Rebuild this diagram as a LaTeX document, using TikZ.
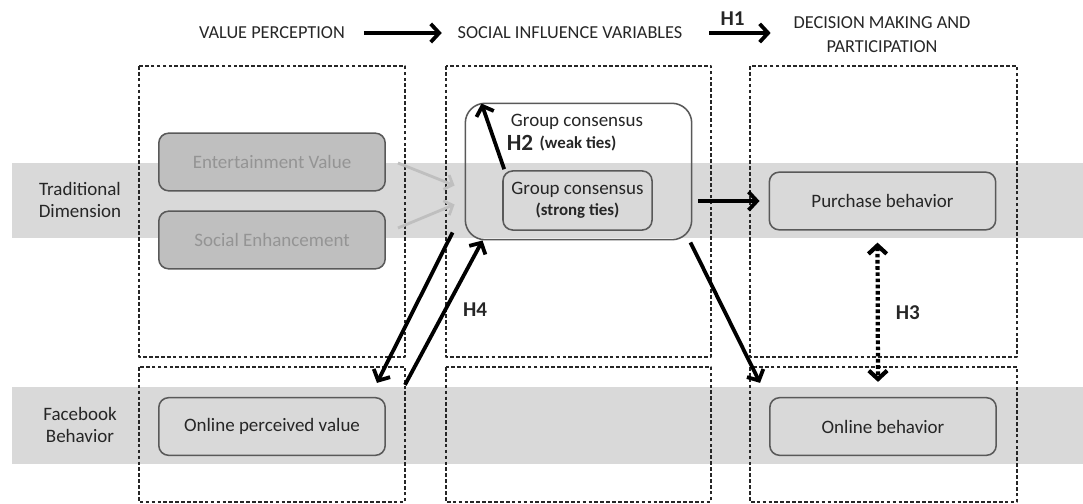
\documentclass[tikz,border=0pt]{standalone}
\usepackage{fontspec}
\setmainfont{Carlito}
\usetikzlibrary{arrows.meta,calc}
\tikzset{
 band/.style={fill=black!15,draw=none},
 colbox/.style={draw=black!85,line width=.9pt,dash pattern=on 2.6pt off 1.6pt},
 rbox/.style={draw=black!65,line width=1.1pt,rounded corners=7pt,fill=black!15,text=black!85,
  minimum width=161pt,minimum height=41pt,font=\fontsize{13.5}{16}\selectfont},
 dimbox/.style={rbox,fill=black!25,text=black!42},
 hyp/.style={font=\fontsize{15}{18}\selectfont\bfseries,text=black!85},
 barb/.tip={Straight Barb[length=6pt,width=13pt]},
 arr/.style={-barb,line width=2.7pt},
 faint/.style={-{Straight Barb[length=5pt,width=11pt]},draw=black!25,line width=2pt}
}
\begin{document}
\begin{tikzpicture}[x=.025cm,y=-.025cm,font=\fontsize{13.5}{16}\selectfont,line join=round,line cap=butt]
 \useasboundingbox (0,0) rectangle (1083,504);
 % rows
 \fill[band] (12,163) rectangle (1083,238);
 \fill[band] (12,387) rectangle (1083,464);
 \node[text=black!85,align=center] (trad) at (80,200) {Traditional\\Dimension};
 \node[text=black!85,align=center] (fb) at (80,425) {Facebook\\Behavior};
 % columns
 \foreach \l/\r in {139/405,446/711,750/1017}{
  \draw[colbox] (\l,66) rectangle (\r,357);
  \draw[colbox] (\l,367) rectangle (\r,502);
 }
 % headings
 \begin{scope}[every node/.style={text=black!85,font=\fontsize{13}{17}\selectfont}]
 \node (vp) at (272,33) {VALUE PERCEPTION};
 \node (siv) at (570,33) {SOCIAL INFLUENCE VARIABLES};
 \node[align=center] (dmp) at (882,35) {DECISION MAKING AND\\PARTICIPATION};
 \end{scope}
 \draw[arr] ($(vp.east)+(14,0)$) -- ($(siv.west)+(-11,0)$);
 \draw[arr] ($(siv.east)+(22,0)$) -- node[above=1pt,hyp,pos=.38]{H1} ($(dmp.west |- siv)+(-18,0)$);
 % value perception
 \node[dimbox] (ent) at (272,162) {Entertainment Value};
 \node[dimbox] (soc) at (272,240) {Social Enhancement};
 \node[rbox] (opv) at (272,426.5) {Online perceived value};
 % social influence
 \node[draw=black!65,line width=1.1pt,rounded corners=14pt,minimum width=161pt,minimum height=97pt] (gcw) at (578.5,171.5) {};
 \node[text=black!85] (gcwt) at (577,122) {Group consensus};
 \node[hyp,font=\fontsize{16.5}{18}\selectfont\bfseries] (h2) at (520,143) {H2};
 \node[font=\fontsize{12}{14}\selectfont\bfseries,text=black!85] (weak) at (578,144) {(weak ties)};
 \node[rbox,minimum width=106pt,minimum height=42pt,align=center] (gcs) at (577.5,200.5)
  {Group consensus\\[-1pt]{\fontsize{12}{14}\selectfont\bfseries (strong ties)}};
 % decision making
 \node[rbox] (pur) at (882.5,201) {Purchase behavior};
 \node[rbox] (onl) at (883,426.5) {Online behavior};
 % links
 \draw[faint] ($(ent.east)+(12,1)$) -- ($(gcw.west)+(-10,14)$);
 \draw[faint] ($(soc.east)+(12,-12)$) -- ($(gcw.west)+(-10,33)$);
 \draw[arr] ($(gcs.north west)+(2,-1)$) -- ($(gcw.north west)+(17,1)$);
 \draw[arr] ($(gcw.east |- pur.west)+(6,0)$) -- ($(pur.west)+(-9,0)$);
 \draw[arr] ($(gcw.south east)+(-2,2)$) -- ($(onl.north west)+(-9,-14)$);
 \draw[arr] ($(gcw.south west)+(-12,-8)$) -- ($(opv.north east)+(-9,-14)$);
 \draw[arr] ($(opv.north east)+(19,-12)$) -- node[right=8pt,hyp,pos=.52]{H4} ($(gcw.south west)+(18,0)$);
 \draw[barb-barb,line width=3pt,dash pattern=on 2.6pt off 1.8pt]
  ($(pur.south)+(-5,12)$) -- node[right=8pt,hyp]{H3} ($(onl.north)+(-5,-15)$);
\end{tikzpicture}
\end{document}
